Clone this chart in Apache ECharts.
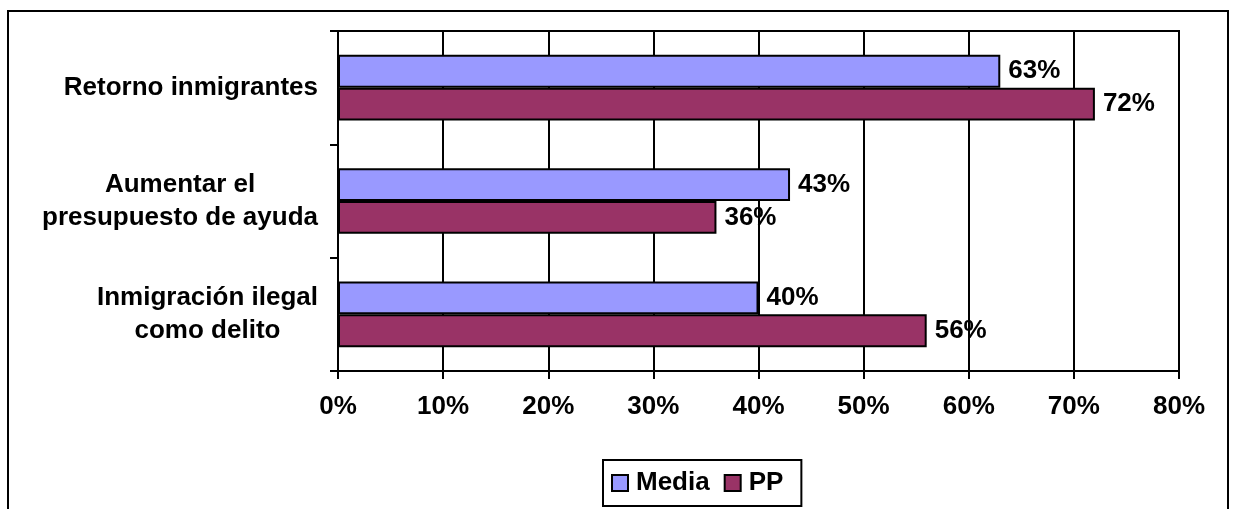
<!DOCTYPE html>
<html>
<head>
<meta charset="utf-8">
<script src="https://cdn.jsdelivr.net/npm/echarts@6/dist/echarts.min.js"></script>
<style>html,body{margin:0;padding:0;background:#fff;}#c{width:1233px;height:509px;}</style>
</head>
<body>
<div id="c"></div>
<script>
var categories = ['Inmigración ilegal\ncomo delito', 'Aumentar el\npresupuesto de ayuda', 'Retorno inmigrantes'];
var mediaValues = [40, 43, 63];
var ppValues = [56, 36, 72];
var seriesNames = ['Media', 'PP'];

var chart = echarts.init(document.getElementById('c'));
var FONT = 'Liberation Sans, Arial, sans-serif';
var FS = 26;
var labelStyle = {
  show: true, position: 'right', distance: 8,
  formatter: '{c}%', color: '#000', fontFamily: FONT, fontWeight: 'bold', fontSize: FS
};
chart.setOption({
  animation: false,
  backgroundColor: '#fff',
  graphic: [{
    type: 'rect', silent: true, z: -1,
    shape: { x: 8, y: 11, width: 1220, height: 530 },
    style: { fill: 'none', stroke: '#000', lineWidth: 2 }
  }],
  grid: { left: 338, right: 54, top: 31, bottom: 138, show: true, borderColor: '#000', borderWidth: 2, backgroundColor: 'transparent' },
  legend: {
    data: seriesNames, left: 603, top: 460,
    borderColor: '#000', borderWidth: 2, padding: [10, 18, 10, 8],
    itemWidth: 16, itemHeight: 16, itemGap: 14, icon: 'rect',
    textStyle: { color: '#000', fontFamily: FONT, fontWeight: 'bold', fontSize: FS, padding: [0, 0, 0, 3] }
  },
  xAxis: {
    type: 'value', min: 0, max: 80, interval: 10,
    axisLine: { show: true, lineStyle: { color: '#000', width: 2 } },
    axisTick: { show: true, length: 8, lineStyle: { color: '#000', width: 2 } },
    splitLine: { show: true, lineStyle: { color: '#000', width: 2 } },
    axisLabel: { formatter: '{value}%', margin: 23, color: '#000', fontFamily: FONT, fontWeight: 'bold', fontSize: FS }
  },
  yAxis: {
    type: 'category', data: categories,
    axisLine: { show: true, lineStyle: { color: '#000', width: 2 } },
    axisTick: { show: true, length: 8, lineStyle: { color: '#000', width: 2 } },
    axisLabel: {
      margin: 20, color: '#000', fontFamily: FONT, fontWeight: 'bold', fontSize: FS,
      formatter: function (v) { return v.split('\n').map(function (l) { return '{c|' + l + '}'; }).join('\n'); },
      rich: { c: { align: 'center', fontFamily: FONT, fontWeight: 'bold', fontSize: FS, lineHeight: 33, color: '#000' } }
    }
  },
  series: [
    { name: seriesNames[0], type: 'bar', data: mediaValues, barGap: '0%', barCategoryGap: '42%',
      itemStyle: { color: '#9999FF', borderColor: '#000', borderWidth: 2 }, label: labelStyle },
    { name: seriesNames[1], type: 'bar', data: ppValues, barGap: '0%', barCategoryGap: '42%',
      itemStyle: { color: '#993366', borderColor: '#000', borderWidth: 2 }, label: labelStyle }
  ]
});
</script>
</body>
</html>
